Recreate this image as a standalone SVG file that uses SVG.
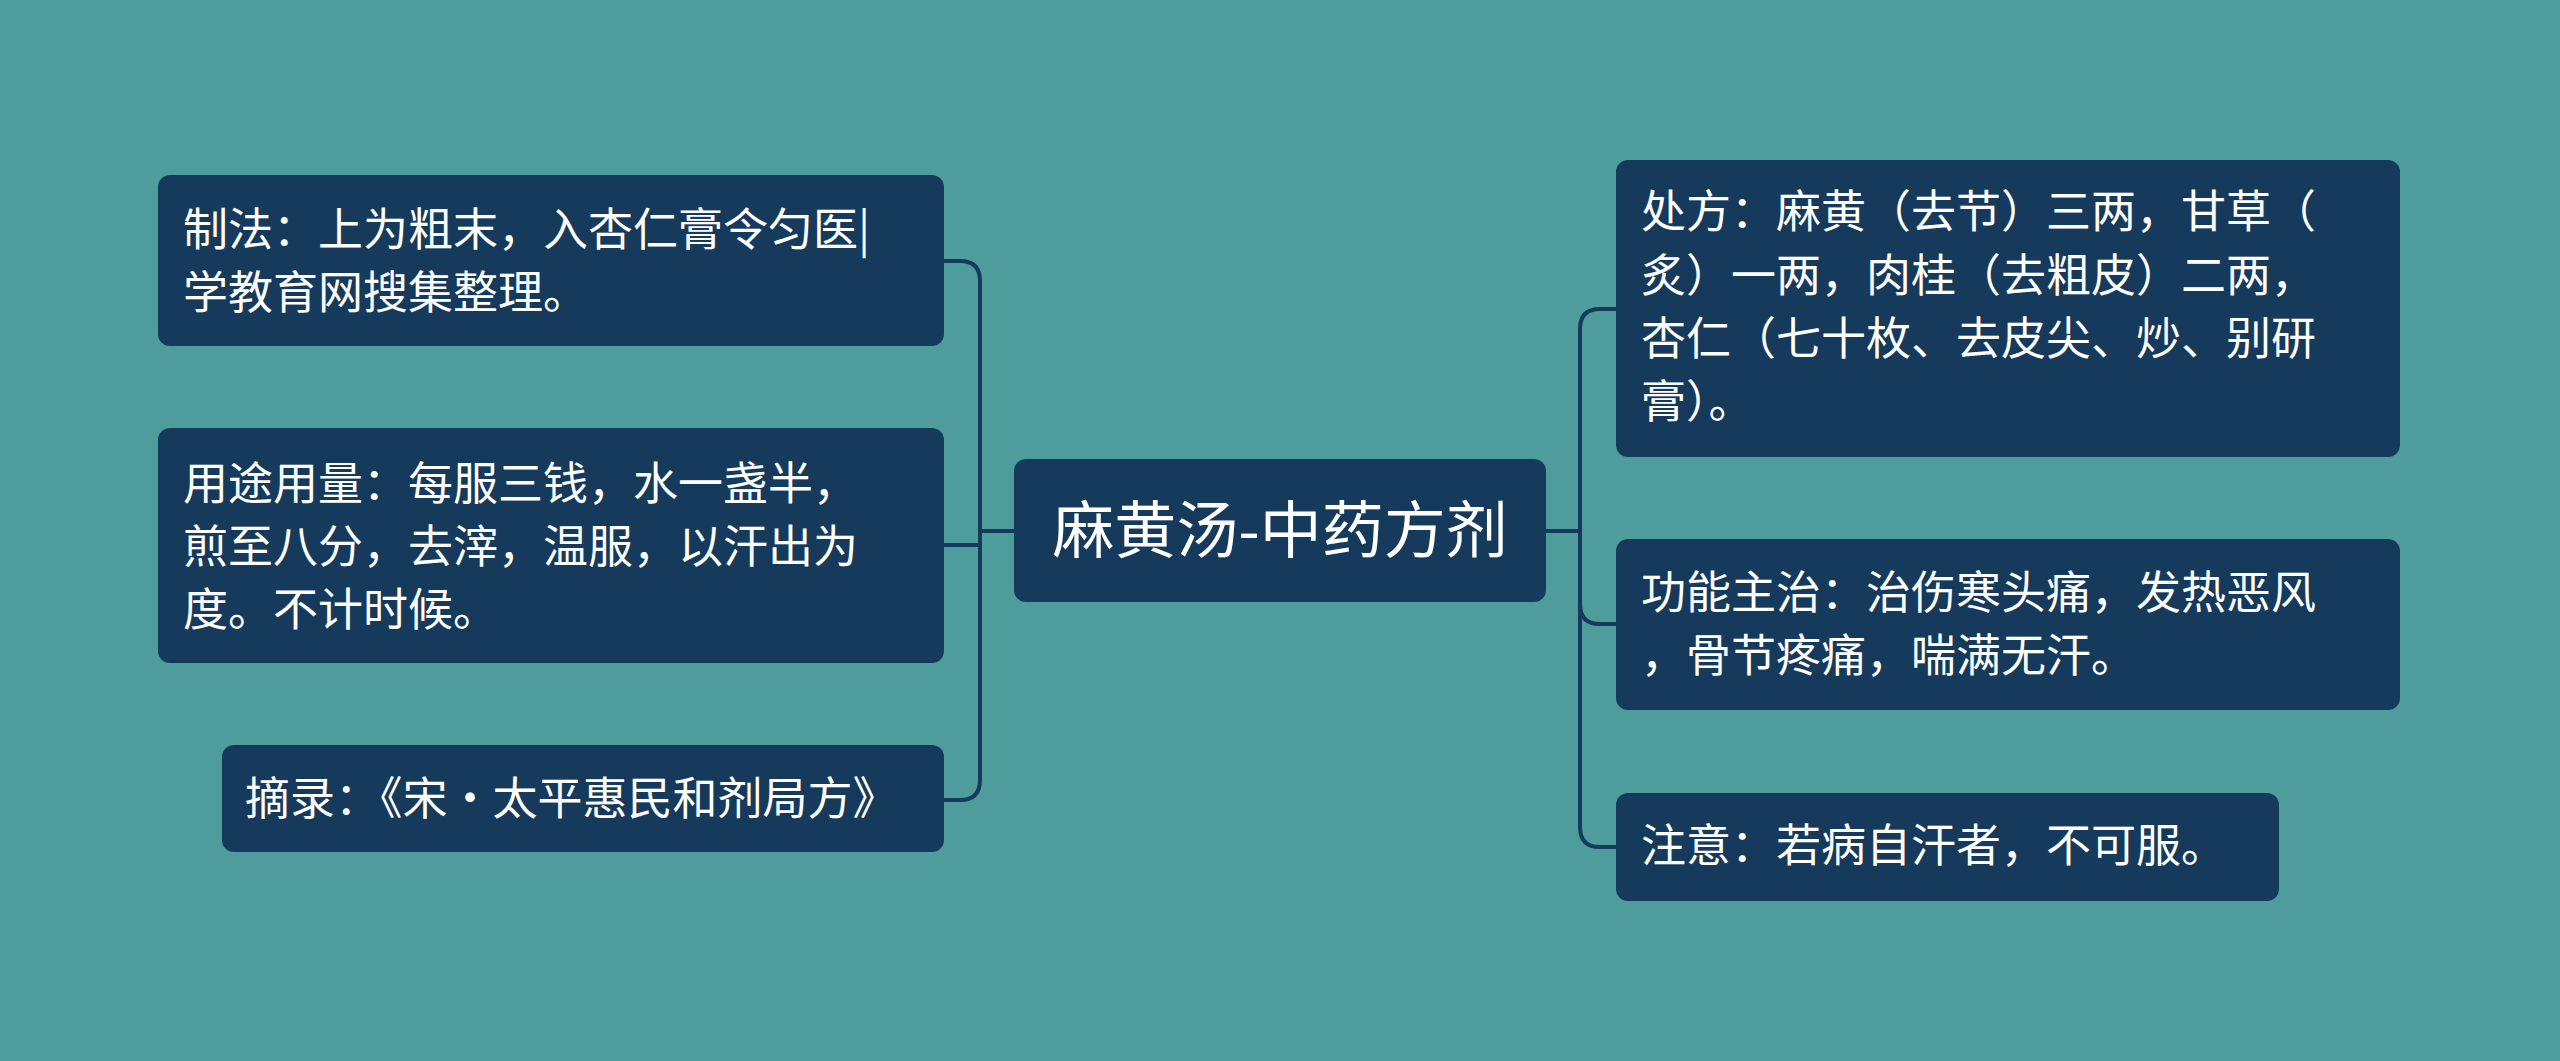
<svg xmlns="http://www.w3.org/2000/svg" width="2560" height="1061" viewBox="0 0 2560 1061">
<style>
.n{fill:#163a5c}
.t{fill:#ffffff;font-family:"Noto Sans CJK SC","Liberation Sans",sans-serif;font-size:45px}
.h{font-size:62px}
.c{fill:none;stroke:#163a5c;stroke-width:4}
</style>
<rect width="2560" height="1061" fill="#4e9c9c"/>
<g id="connectors">
<path class="c" d="M1014 531H980M980 531V281Q980 261 960 261H944M980 531V780Q980 800 960 800H944M980 545H944"/>
<path class="c" d="M1546 531H1580M1580 531V329Q1580 309 1600 309H1616M1580 531V827Q1580 847 1600 847H1616M1580 604Q1580 624 1600 624H1616"/>
</g>
<g id="center"><rect class="n" x="1014" y="459" width="532" height="143" rx="12"/><text class="t h" x="1280" y="553" text-anchor="middle">麻黄汤-中药方剂</text></g>
<g id="l1"><rect class="n" x="158" y="175" width="786" height="171" rx="12"/><text class="t" x="183" y="246">制法：上为粗末，入杏仁膏令匀医|</text><text class="t" x="183" y="309">学教育网搜集整理。</text></g>
<g id="l2"><rect class="n" x="158" y="428" width="786" height="235" rx="12"/><text class="t" x="183" y="500">用途用量：每服三钱，水一盏半，</text><text class="t" x="183" y="563">煎至八分，去滓，温服，以汗出为</text><text class="t" x="183" y="626">度。不计时候。</text></g>
<g id="l3"><rect class="n" x="222" y="745" width="722" height="107" rx="12"/><text class="t" x="245" y="815">摘录：《宋·太平惠民和剂局方》</text></g>
<g id="r1"><rect class="n" x="1616" y="160" width="784" height="297" rx="12"/><text class="t" x="1641" y="228">处方：麻黄（去节）三两，甘草（</text><text class="t" x="1641" y="292">炙）一两，肉桂（去粗皮）二两，</text><text class="t" x="1641" y="355">杏仁（七十枚、去皮尖、炒、别研</text><text class="t" x="1641" y="418">膏）。</text></g>
<g id="r2"><rect class="n" x="1616" y="539" width="784" height="171" rx="12"/><text class="t" x="1641" y="609">功能主治：治伤寒头痛，发热恶风</text><text class="t" x="1641" y="672">，骨节疼痛，喘满无汗。</text></g>
<g id="r3"><rect class="n" x="1616" y="793" width="663" height="108" rx="12"/><text class="t" x="1641" y="862">注意：若病自汗者，不可服。</text></g>
</svg>
